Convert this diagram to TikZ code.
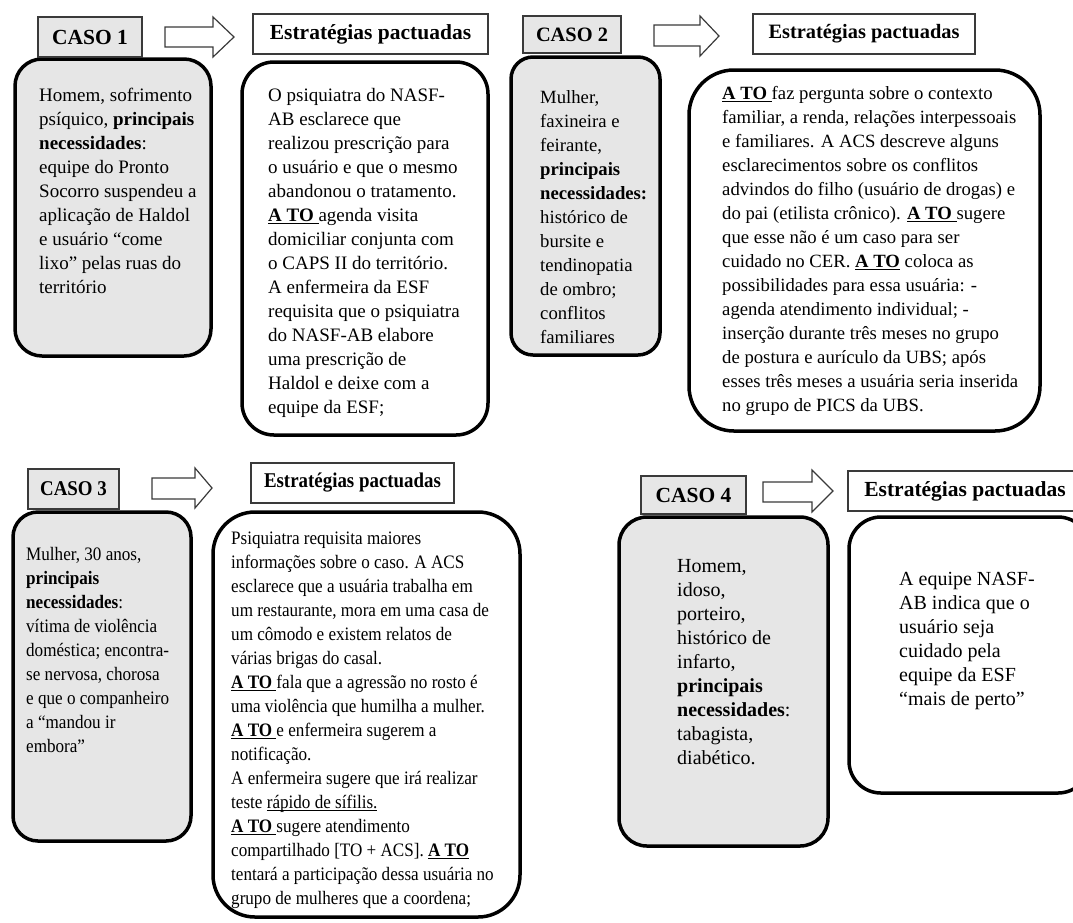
\documentclass[tikz,border=0pt]{standalone}
\usepackage{fontspec}
\setmainfont{Liberation Serif}
\newfontfamily\estreita[FakeStretch=0.9]{Liberation Serif}
\definecolor{cinza}{HTML}{E6E6E6}
\definecolor{borda}{HTML}{3A3A3A}
\newcommand{\sublinha}[1]{\setbox0\hbox{#1}\rlap{\rule[-3pt]{\wd0}{1.5pt}}\box0\relax}
\newcommand{\ato}{\sublinha{\textbf{A TO }}}

\begin{document}
\begin{tikzpicture}[x=1pt,y=-1pt,
    cabecalho/.style={draw=borda, line width=1.2pt, fill=white, inner sep=0,
      font={\fontsize{#1}{26}\selectfont\bfseries}},
    caso/.style={cabecalho=#1, fill=cinza},
    caixa/.style={draw=black, line width=3.5pt},
    texto/.style={anchor=north west, align=left, inner sep=0,
      font={\fontsize{#1}{24}\selectfont}},
    estreito/.style={anchor=north west, align=left, inner sep=0,
      font={\estreita\fontsize{19}{24}\selectfont}},
    seta/.style={draw=borda, line width=1.2pt, fill=white, line join=miter}]
    \useasboundingbox (0,0) rectangle (1073,922);

    % Caso 1
    \draw[caixa, fill=cinza, rounded corners=27] (15,59) rectangle (211,356);
    \draw[caixa, rounded corners=32] (242,62) rectangle (488,435);
    \node[caso=21.5, minimum width=104, minimum height=40] (caso1) at (90,37) {CASO 1};
    \node[cabecalho=21.5, minimum width=235, minimum height=40] (estr1) at (370.5,34) {Estratégias pactuadas};
    \draw[seta] (165,27) -- (213,27) -- (213,17) -- (234,37) -- (213,57) -- (213,47) -- (165,47) -- cycle;
    \node[texto=19] (txtcaso1) at (39,84) {\strut Homem, sofrimento\\
      psíquico, \textbf{principais}\\
      \textbf{necessidades}:\\
      equipe do Pronto\\
      Socorro suspendeu a\\
      aplicação de Haldol\\
      e usuário “come\\
      lixo” pelas ruas do\\
      território};
    \node[texto=19] (txtestr1) at (268,84) {\strut O psiquiatra do NASF-\\
      AB esclarece que\\
      realizou prescrição para\\
      o usuário e que o mesmo\\
      abandonou o tratamento.\\
      \ato agenda visita\\
      domiciliar conjunta com\\
      o CAPS II do território.\\
      A enfermeira da ESF\\
      requisita que o psiquiatra\\
      do NASF-AB elabore\\
      uma prescrição de\\
      Haldol e deixe com a\\
      equipe da ESF;};

    % Caso 2
    \draw[caixa, fill=cinza, rounded corners=22] (511,57) rectangle (660,355);
    \draw[caixa, rounded corners=45] (689,70) rectangle (1040,431);
    \node[caso=20.4, minimum width=98, minimum height=37] (caso2) at (572,34.5) {CASO 2};
    \node[cabecalho=20.4, minimum width=222, minimum height=40] (estr2) at (864,34) {Estratégias pactuadas};
    \draw[seta] (654,25) -- (700,25) -- (700,16) -- (719,36) -- (700,56) -- (700,46) -- (654,46) -- cycle;
    \node[texto=18.7] (txtcaso2) at (540,86) {\strut Mulher,\\
      faxineira e\\
      feirante,\\
      \textbf{principais}\\
      \textbf{necessidades:}\\
      histórico de\\
      bursite e\\
      tendinopatia\\
      de ombro;\\
      conflitos\\
      familiares};
    \node[texto=18.7] (txtestr2) at (722,82) {\strut \ato faz pergunta sobre o contexto\\
      familiar, a renda, relações interpessoais\\
      e familiares. A ACS descreve alguns\\
      esclarecimentos sobre os conflitos\\
      advindos do filho (usuário de drogas) e\\
      do pai (etilista crônico). \ato sugere\\
      que esse não é um caso para ser\\
      cuidado no CER. \sublinha{\textbf{A TO}} coloca as\\
      possibilidades para essa usuária: -\\
      agenda atendimento individual; -\\
      inserção durante três meses no grupo\\
      de postura e aurículo da UBS; após\\
      esses três meses a usuária seria inserida\\
      no grupo de PICS da UBS.};

    % Caso 3
    \draw[caixa, fill=cinza, rounded corners=25] (13,512) rectangle (191,841);
    \draw[caixa, rounded corners=42] (213,512) rectangle (520,917);
    \node[caso=21, font=\estreita\fontsize{21}{26}\selectfont\bfseries, minimum width=91, minimum height=40] (caso3) at (73.5,489) {CASO 3};
    \node[cabecalho=21, font=\estreita\fontsize{21}{26}\selectfont\bfseries, minimum width=203, minimum height=40] (estr3) at (352.5,483) {Estratégias pactuadas};
    \draw[seta] (152,478) -- (195,478) -- (195,468) -- (212,488) -- (195,508) -- (195,499) -- (152,499) -- cycle;
    \node[estreito] (txtcaso3) at (26,543) {\strut Mulher, 30 anos,\\
      \textbf{principais}\\
      \textbf{necessidades}:\\
      vítima de violência\\
      doméstica; encontra-\\
      se nervosa, chorosa\\
      e que o companheiro\\
      a “mandou ir\\
      embora”};
    \node[estreito] (txtestr3) at (231,527) {\strut Psiquiatra requisita maiores\\
      informações sobre o caso. A ACS\\
      esclarece que a usuária trabalha em\\
      um restaurante, mora em uma casa de\\
      um cômodo e existem relatos de\\
      várias brigas do casal.\\
      \ato fala que a agressão no rosto é\\
      uma violência que humilha a mulher.\\
      \ato e enfermeira sugerem a\\
      notificação.\\
      A enfermeira sugere que irá realizar\\
      teste \sublinha{rápido de sífilis.}\\
      \ato sugere atendimento\\
      compartilhado [TO + ACS]. \sublinha{\textbf{A TO}}\\
      tentará a participação dessa usuária no\\
      grupo de mulheres que a coordena;};

    % Caso 4
    \draw[caixa, fill=cinza, rounded corners=28] (619,517) rectangle (828,846);
    \draw[caixa, rounded corners=32] (849,517) rectangle (1090,793);
    \node[caso=21.5, minimum width=105, minimum height=38] (caso4) at (693.5,495) {CASO 4};
    \node[cabecalho=21.5, minimum width=234, minimum height=40] (estr4) at (965,491) {Estratégias pactuadas};
    \draw[seta] (763,482) -- (812,482) -- (812,470) -- (833,491) -- (812,512) -- (812,502) -- (763,502) -- cycle;
    \node[texto=20] (txtcaso4) at (677,555) {\strut Homem,\\
      idoso,\\
      porteiro,\\
      histórico de\\
      infarto,\\
      \textbf{principais}\\
      \textbf{necessidades}:\\
      tabagista,\\
      diabético.};
    \node[texto=20] (txtestr4) at (899,568) {\strut A equipe NASF-\\
      AB indica que o\\
      usuário seja\\
      cuidado pela\\
      equipe da ESF\\
      “mais de perto”};
\end{tikzpicture}
\end{document}
